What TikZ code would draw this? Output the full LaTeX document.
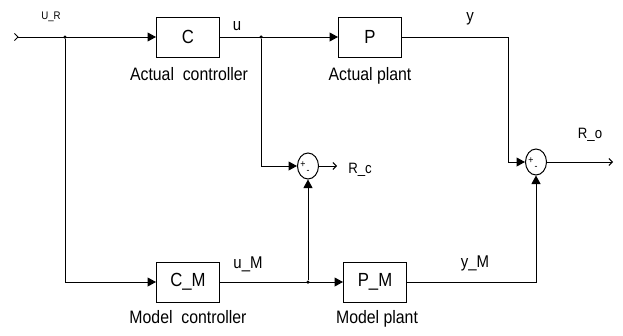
\documentclass[tikz,border=0pt]{standalone}
\usepackage{fontspec}
\setmainfont{Liberation Sans}[FakeStretch=0.88]
\usetikzlibrary{arrows.meta,shapes.geometric}

\begin{document}
\begin{tikzpicture}[
    x=1pt, y=-1pt,
    sig/.style={line width=1pt},
    fwd/.style={sig, -{Triangle[length=8.5pt,width=9pt]}},
    inport/.style={sig, {Straight Barb[reversed,length=3.5pt,width=7pt,line width=0.9pt]}-{Triangle[length=8.5pt,width=9pt]}},
    outsig/.style={sig, -{Straight Barb[length=3.5pt,width=7pt,line width=0.9pt]}},
    blk/.style={draw, line width=1pt, minimum width=63pt, minimum height=40pt, inner sep=0pt, font=\fontsize{19}{19}\selectfont},
    sum/.style={draw, ellipse, line width=1pt, minimum width=21pt, minimum height=26pt, inner sep=0pt},
    desc/.style={anchor=base, font=\fontsize{18}{18}\selectfont},
    lbl/.style={anchor=base, font=\fontsize{17}{17}\selectfont},
    sgn/.style={inner sep=0pt, font=\fontsize{10}{10}\selectfont},
    dot/.style={circle, fill, inner sep=0pt, minimum size=3.5pt},
]
\useasboundingbox (0,0) rectangle (623,335);

% ---------- actual loop ----------
\coordinate (in) at (14,37);
\node[dot] (j1) at (65,37) {};
\node[blk] (C) at (188,37) {C};
\node[desc] (Cdesc) at (189,80) {Actual\ \ controller};
\node[dot] (j2) at (261,37) {};
\node[blk] (P) at (370,37) {P};
\node[desc] (Pdesc) at (370,80) {Actual plant};
\coordinate (ycorner) at (508,37);

% ---------- model loop ----------
\node[blk] (CM) at (188,282) {C\_M};
\node[desc] (CMdesc) at (188,323) {Model\ \ controller};
\node[dot] (j3) at (308,282) {};
\node[blk] (PM) at (375,282) {P\_M};
\node[desc] (PMdesc) at (377,323) {Model plant};

% ---------- comparison ----------
\node[sum] (S1) at (308,166) {};
\node[sgn] at ([xshift=-5pt,yshift=1.5pt]S1.center) {+};
\node[sgn] at ([xshift=0pt,yshift=-5.5pt]S1.center) {-};
\coordinate (rc) at (337,166);
\node[sum] (S2) at (536,162) {};
\node[sgn] at ([xshift=-5pt,yshift=1.5pt]S2.center) {+};
\node[sgn] at ([xshift=0pt,yshift=-5.5pt]S2.center) {-};
\coordinate (ro) at (613,162);

% signal names
\node[lbl, font=\fontsize{11}{11}\selectfont] (uR) at (51,19) {U\_R};
\node[lbl] (u) at (237,30) {u};
\node[lbl] (y) at (470,21) {y};
\node[lbl] (uM) at (248,268) {u\_M};
\node[lbl] (yM) at (475,267) {y\_M};
\node[lbl, font=\fontsize{15}{15}\selectfont] (Rc) at (360,173) {R\_c};
\node[lbl, font=\fontsize{15}{15}\selectfont] (Ro) at (590,138) {R\_o};

% ---------- connectors ----------
\draw[inport] (in) -- (C.west);
\draw[fwd] (C.east) -- (P.west);
\draw[fwd] (P.east) -- (ycorner) |- (S2.west);
\draw[fwd] (j2) |- (S1.west);
\draw[fwd] (j1) |- (CM.west);
\draw[fwd] (CM.east) -- (PM.west);
\draw[fwd] (j3) -- (S1.south);
\draw[fwd] (PM.east) -| (S2.south);
\draw[outsig] (S1.east) -- (rc);
\draw[outsig] (S2.east) -- (ro);

\end{tikzpicture}
\end{document}
